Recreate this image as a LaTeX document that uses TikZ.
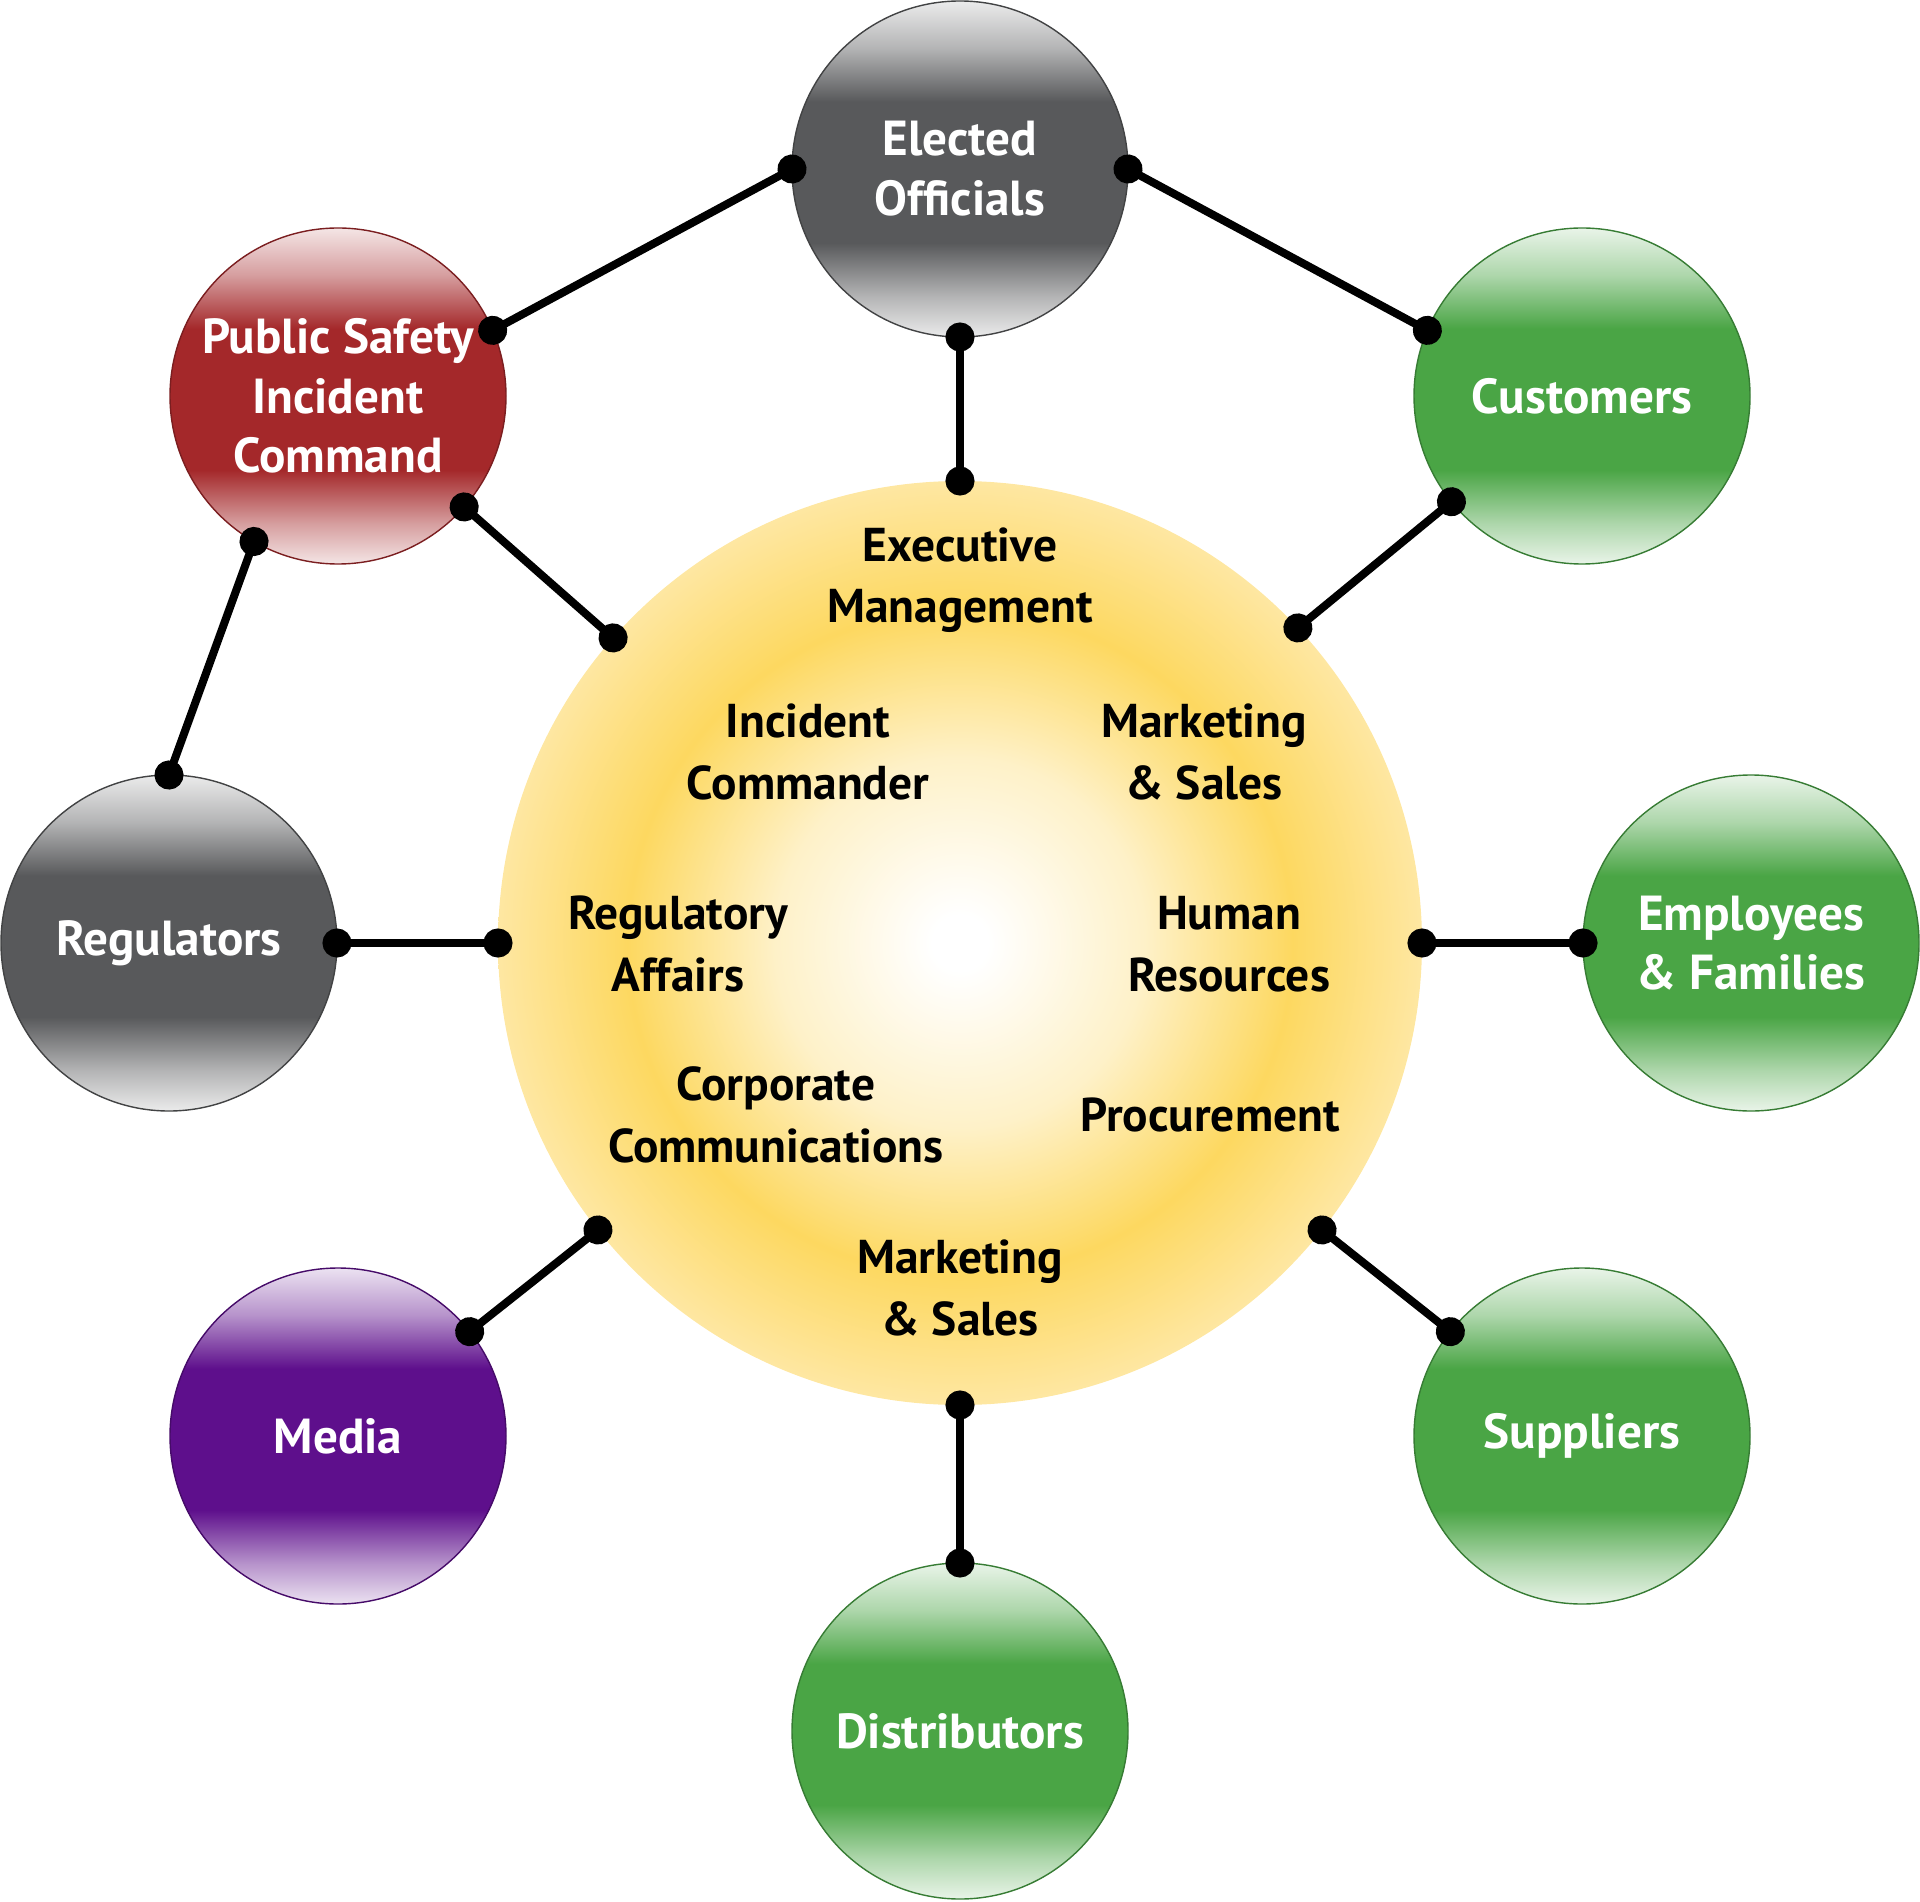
\documentclass[tikz,border=0pt]{standalone}
\usepackage{fontspec}
\setmainfont{PT Sans}
\usetikzlibrary{arrows.meta}

% couleurs des bulles
\definecolor{greyb}{HTML}{58595B}
\definecolor{redb}{HTML}{A4282A}
\definecolor{greenb}{HTML}{4AA545}
\definecolor{purpleb}{HTML}{5E0F8C}
\definecolor{sunpale}{HTML}{FEF1C8}
\definecolor{sunyel}{HTML}{FDD860}
\definecolor{sunedge}{HTML}{FEE7A2}

% dégradé vertical des bulles
\newcommand\ballshading[1]{%
  \pgfdeclareverticalshading{#1ball}{100bp}{color(0bp)=(#1!12); color(25bp)=(#1!12);
    color(31bp)=(#1!45); color(39bp)=(#1); color(60bp)=(#1); color(68bp)=(#1!45);
    color(75bp)=(#1!12); color(100bp)=(#1!12)}}
\ballshading{greyb}
\ballshading{redb}
\ballshading{greenb}
\ballshading{purpleb}

% dégradé radial du cercle central
\pgfdeclareradialshading{sunball}{\pgfpoint{0bp}{0bp}}{color(0bp)=(white); color(1.5bp)=(white);
  color(10bp)=(sunpale); color(18bp)=(sunyel); color(25bp)=(sunedge); color(50bp)=(sunedge)}

\tikzset{
  ball/.style={circle, minimum size=3.36cm, inner sep=0pt, outer sep=0pt, draw=#1!75!black,
    line width=0.4pt, shade, shading=#1ball, text=white, align=center,
    font=\bfseries\fontsize{14}{17}\selectfont},
  hub/.style={circle, minimum size=9.24cm, inner sep=0pt, outer sep=0pt, shade, shading=sunball},
  dept/.style={align=center, text=black, font=\bfseries\fontsize{13.5}{17.5}\selectfont},
  link/.style={line width=0.08cm, {Circle[length=0.29cm]}-{Circle[length=0.29cm]},
    shorten <=-0.145cm, shorten >=-0.145cm}
}

\begin{document}
\begin{tikzpicture}
  \useasboundingbox (0,0) rectangle (19.2,19.01);

  % cercle central
  \node[hub] (hub) at (9.6,9.58) {};

  % bulles
  \node[ball=greyb] (ele) at (9.6,17.32) {Elected\\Officials};
  \node[ball=redb] (pub) at (3.38,15.05) {Public Safety\\Incident\\Command};
  \node[ball=greenb] (cus) at (15.82,15.05) {Customers};
  \node[ball=greyb] (regu) at (1.69,9.58) {Regulators};
  \node[ball=greenb] (emp) at (17.51,9.58) {Employees\\\& Families};
  \node[ball=purpleb] (med) at (3.38,4.65) {Media};
  \node[ball=greenb] (sup) at (15.82,4.65) {Suppliers};
  \node[ball=greenb] (dis) at (9.6,1.7) {Distributors};

  % services
  \node[dept] (exe) at (9.6,13.21) {Executive\\Management};
  \node[dept] (inc) at (8.08,11.49) {Incident\\Commander};
  \node[dept] (mkt) at (12.04,11.49) {Marketing\\\& Sales};
  \node[dept] (raf) at (6.78,9.57) {Regulatory\\Affairs};
  \node[dept] (hum) at (12.29,9.57) {Human\\Resources};
  \node[dept] (cor) at (7.76,7.86) {Corporate\\Communications};
  \node[dept] (pro) at (12.10,7.86) {Procurement};
  \node[dept] (mks) at (9.6,6.13) {Marketing\\\& Sales};

  % liens
  \draw[link] (ele.west) -- (pub.23);
  \draw[link] (ele.east) -- (cus.157);
  \draw[link] (ele.south) -- (hub.north);
  \draw[link] (pub) -- (hub);
  \draw[link] (pub.240) -- (regu.north);
  \draw[link] (cus.219) -- (hub.43);
  \draw[link] (regu.east) -- (hub.west);
  \draw[link] (emp.west) -- (hub.east);
  \draw[link] (med) -- (hub);
  \draw[link] (sup) -- (hub);
  \draw[link] (dis.north) -- (hub.south);
\end{tikzpicture}
\end{document}
